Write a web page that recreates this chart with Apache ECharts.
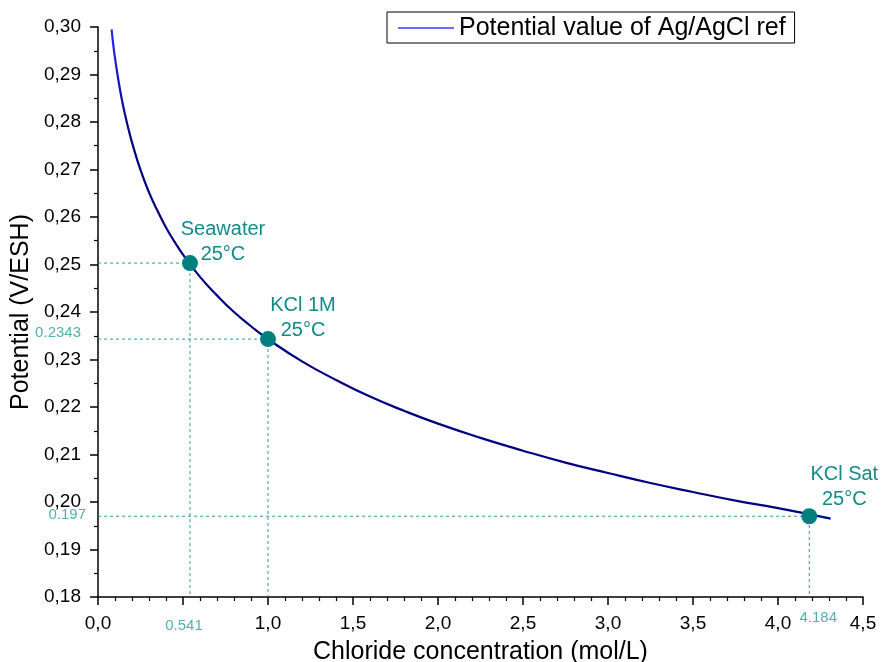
<!DOCTYPE html>
<html>
<head>
<meta charset="utf-8">
<script src="https://cdn.jsdelivr.net/npm/echarts@6/dist/echarts.min.js"></script>
<style>html,body{margin:0;padding:0;background:#fff}#c{width:882px;height:662px}</style>
</head>
<body>
<div id="c"></div>
<script>
// Curve
const curveX = [0.08, 0.09, 0.10, 0.12, 0.14, 0.16, 0.18, 0.20, 0.25, 0.30, 0.35, 0.40, 0.45, 0.50, 0.60, 0.70, 0.80, 0.90, 1.00, 1.20, 1.40, 1.60, 1.80, 2.00, 2.25, 2.50, 2.75, 3.00, 3.25, 3.50, 3.75, 4.00, 4.31];
const curveY = [0.2995, 0.2962, 0.2935, 0.2888, 0.2848, 0.2814, 0.2784, 0.2757, 0.2699, 0.2652, 0.2613, 0.2578, 0.2548, 0.2521, 0.2474, 0.2435, 0.2400, 0.2370, 0.2343, 0.2296, 0.2257, 0.2222, 0.2192, 0.2165, 0.2135, 0.2108, 0.2083, 0.2061, 0.2040, 0.2021, 0.2003, 0.1987, 0.1965];
// Reference points
const refNames = ['Seawater\n25°C', 'KCl 1M\n25°C', 'KCl Sat\n25°C'];
const refX = [0.541, 1.0, 4.184];
const refY = [0.2503, 0.2343, 0.197];
// Annotation tick labels
const xAnnot = [0.541, 4.184];
const xAnnotText = ['0.541', '4.184'];
const yAnnot = [0.2343, 0.197];
const yAnnotText = ['0.2343', '0.197'];
const hiddenXTicks = [0.5];
const legendName = 'Potential value of Ag/AgCl ref';

const TEAL = '#007f7f';
const TEAL_TXT = '#138a8a';
const TEAL_SMALL = '#2a9a9a';
const FONT = 'Liberation Sans, Arial, sans-serif';
const yMin = 0.18, xMin = 0;

const series = [];
series.push({
  name: legendName, type: 'line', smooth: true,
  data: curveX.map((x, i) => [x, curveY[i]]),
  showSymbol: false, symbol: 'none',
  lineStyle: {
    width: 2.2,
    color: new echarts.graphic.LinearGradient(0, 0, 0, 1, [
      {offset: 0, color: '#2a2aff'}, {offset: 0.22, color: '#000080'}, {offset: 1, color: '#000080'}
    ])
  },
  itemStyle: {color: '#000080'},
  z: 3
});
// dashed guide lines
refX.forEach((x, i) => {
  series.push({
    type: 'line', silent: true, showSymbol: false, symbol: 'none',
    data: [[xMin, refY[i]], [x, refY[i]], [x, yMin]],
    lineStyle: {color: TEAL_SMALL, width: 1, type: [3, 3]}, z: 2
  });
});
const labelOffsets = [[33, -21], [35, -21], [35, -29]];
series.push({
  type: 'scatter', symbolSize: 16, itemStyle: {color: TEAL, opacity: 1},
  data: refX.map((x, i) => ({
    value: [x, refY[i]],
    label: {show: true, formatter: refNames[i], position: 'inside', offset: labelOffsets[i],
      color: TEAL_TXT, fontSize: 20, fontFamily: FONT, lineHeight: 25, align: 'center'}
  })),
  z: 4
});
series.push({
  type: 'scatter', symbolSize: 0, clip: false, silent: true,
  data: xAnnot.map((x, i) => ({
    value: [x, yMin],
    label: {show: true, formatter: xAnnotText[i], position: 'bottom', distance: i === 0 ? 21 : 13,
      offset: [i === 0 ? -6 : 9, 0], color: TEAL_SMALL, fontSize: 15, fontFamily: FONT}
  }))
});
series.push({
  type: 'scatter', symbolSize: 0, clip: false, silent: true,
  data: yAnnot.map((y, i) => ({
    value: [xMin, y],
    label: {show: true, formatter: yAnnotText[i], position: 'left', distance: i === 0 ? 17 : 12,
      offset: [0, i === 0 ? -6 : -1], color: TEAL_SMALL, fontSize: 15, fontFamily: FONT}
  }))
});

const chart = echarts.init(document.getElementById('c'), null, {renderer: 'canvas'});
chart.setOption({
  animation: false,
  backgroundColor: '#fff',
  textStyle: {fontFamily: FONT},
  grid: {left: 98, right: 19, top: 27, bottom: 65, containLabel: false, outerBoundsMode: 'none'},
  legend: {
    data: [{name: legendName, icon: 'rect', itemStyle: {color: '#3a3aff'}}],
    left: 387, top: 12, padding: [3, 9, 2, 11], itemWidth: 56, itemHeight: 1.5, itemGap: 8,
    borderColor: '#000', borderWidth: 1, borderRadius: 0,
    textStyle: {fontSize: 25, lineHeight: 26, color: '#000', fontFamily: FONT}
  },
  xAxis: {
    type: 'value', min: 0, max: 4.5, interval: 0.5,
    name: 'Chloride concentration (mol/L)', nameLocation: 'middle', nameGap: 43,
    nameTextStyle: {fontSize: 25, color: '#000', fontFamily: FONT},
    axisLine: {show: true, onZero: false, lineStyle: {color: '#000', width: 1.5}},
    axisTick: {show: true, length: 8, lineStyle: {color: '#000', width: 1.5}},
    minorTick: {show: true, splitNumber: 5, length: 4, lineStyle: {color: '#000', width: 1.2}},
    splitLine: {show: false},
    axisLabel: {fontSize: 19, color: '#000', margin: 17, fontFamily: FONT,
      formatter: v => hiddenXTicks.some(h => Math.abs(h - v) < 1e-9) ? '' : v.toFixed(1).replace('.', ',')}
  },
  yAxis: {
    type: 'value', min: 0.18, max: 0.30, interval: 0.01,
    name: 'Potential (V/ESH)', nameLocation: 'middle', nameGap: 57, nameRotate: 90,
    nameTextStyle: {fontSize: 25, color: '#000', fontFamily: FONT},
    axisLine: {show: true, onZero: false, lineStyle: {color: '#000', width: 1.5}},
    axisTick: {show: true, length: 8, lineStyle: {color: '#000', width: 1.5}},
    minorTick: {show: true, splitNumber: 2, length: 4, lineStyle: {color: '#000', width: 1.2}},
    splitLine: {show: false},
    axisLabel: {fontSize: 19, color: '#000', margin: 17, fontFamily: FONT,
      formatter: v => v.toFixed(2).replace('.', ',')}
  },
  series: series
});
</script>
</body>
</html>
